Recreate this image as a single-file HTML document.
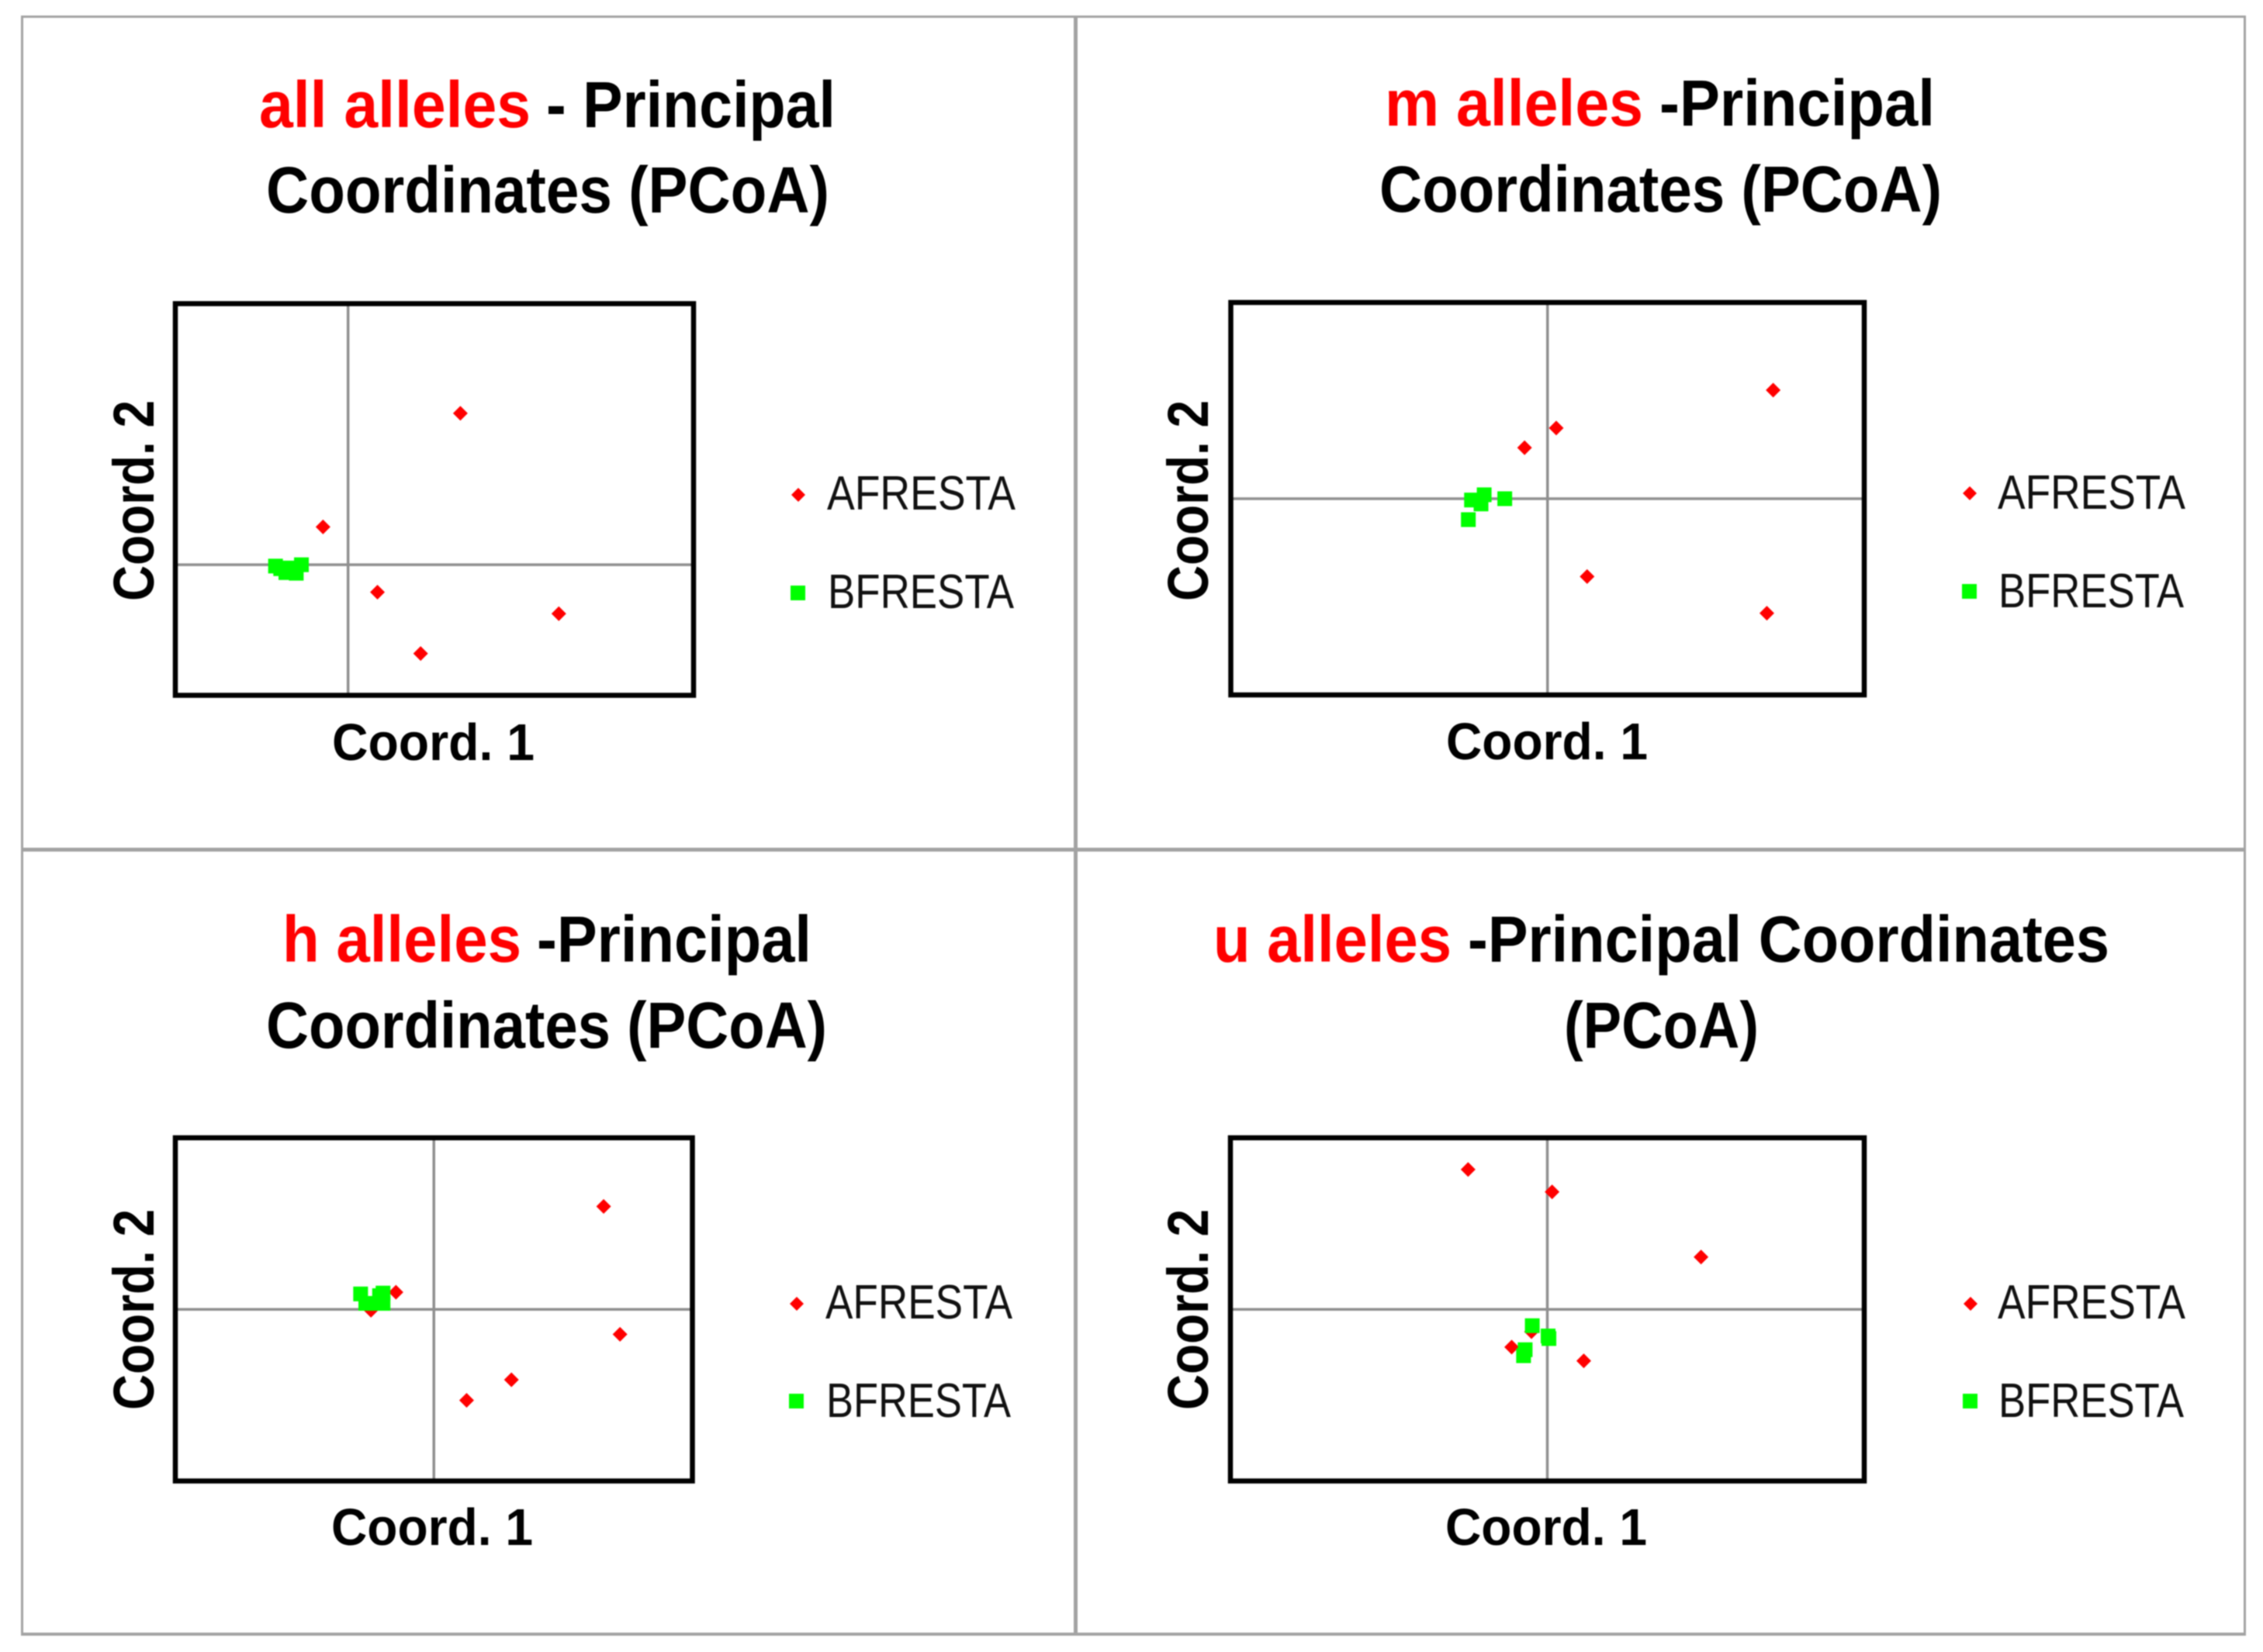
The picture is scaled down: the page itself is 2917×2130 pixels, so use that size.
<!DOCTYPE html>
<html lang="en">
<head>
<meta charset="utf-8">
<title>PCoA of alleles</title>
<style>
html,body{margin:0;padding:0;background:#fff;}
svg{display:block;width:2917px;height:2130px;filter:blur(0.7px);}
text{font-family:"Liberation Sans",sans-serif;fill:#000;}
.t{font-weight:700;font-size:84px;}
.r{fill:#f00;}
.ax{font-weight:700;font-size:67px;}
.ay{font-weight:700;font-size:74px;}
.lg{font-size:62px;fill:#111;}
</style>
</head>
<body>
<svg id="figure" xmlns="http://www.w3.org/2000/svg" width="2917" height="2130" viewBox="0 0 2917 2130">
  <g fill="#a3a3a3">
    <rect x="27" y="20" width="2867" height="3"/>
    <rect x="27" y="20" width="3" height="2089"/>
    <rect x="2892" y="20" width="3" height="2089"/>
    <rect x="1384" y="20" width="5" height="2089"/>
    <rect x="27" y="1093" width="2867" height="5"/>
    <rect x="27" y="2105" width="2867" height="4"/>
  </g>

  <g id="plots"></g>

  <!-- Panel 1 -->
  <g>
    <text class="t r" x="334" y="164" textLength="350" lengthAdjust="spacingAndGlyphs">all alleles</text>
    <text class="t" x="704" y="164" textLength="373" lengthAdjust="spacingAndGlyphs">- Principal</text>
    <text class="t" x="343" y="274" textLength="726" lengthAdjust="spacingAndGlyphs">Coordinates (PCoA)</text>
    <text class="ax" x="428" y="980" textLength="261" lengthAdjust="spacingAndGlyphs">Coord. 1</text>
    <text class="ay" transform="translate(198 775) rotate(-90)" textLength="259" lengthAdjust="spacingAndGlyphs">Coord. 2</text>
    <polygon fill="#f00" points="1029,629 1038,638 1029,647 1020,638"/>
    <text class="lg" x="1066" y="657" textLength="243" lengthAdjust="spacingAndGlyphs">AFRESTA</text>
    <rect fill="#0f0" x="1019" y="755" width="19" height="19"/>
    <text class="lg" x="1067" y="784" textLength="240" lengthAdjust="spacingAndGlyphs">BFRESTA</text>
  </g>

  <!-- Panel 2 -->
  <g>
    <text class="t r" x="1785" y="162" textLength="333" lengthAdjust="spacingAndGlyphs">m alleles</text>
    <text class="t" x="2139" y="162" textLength="355" lengthAdjust="spacingAndGlyphs">-Principal</text>
    <text class="t" x="1778" y="273" textLength="725" lengthAdjust="spacingAndGlyphs">Coordinates (PCoA)</text>
    <text class="ax" x="1864" y="979" textLength="260" lengthAdjust="spacingAndGlyphs">Coord. 1</text>
    <text class="ay" transform="translate(1557 775) rotate(-90)" textLength="259" lengthAdjust="spacingAndGlyphs">Coord. 2</text>
    <polygon fill="#f00" points="2539,627 2548,636 2539,645 2530,636"/>
    <text class="lg" x="2575" y="656" textLength="242" lengthAdjust="spacingAndGlyphs">AFRESTA</text>
    <rect fill="#0f0" x="2529" y="753" width="19" height="19"/>
    <text class="lg" x="2576" y="783" textLength="239" lengthAdjust="spacingAndGlyphs">BFRESTA</text>
  </g>

  <!-- Panel 3 -->
  <g>
    <text class="t r" x="364" y="1240" textLength="308" lengthAdjust="spacingAndGlyphs">h alleles</text>
    <text class="t" x="692" y="1240" textLength="354" lengthAdjust="spacingAndGlyphs">-Principal</text>
    <text class="t" x="343" y="1351" textLength="723" lengthAdjust="spacingAndGlyphs">Coordinates (PCoA)</text>
    <text class="ax" x="427" y="1992" textLength="260" lengthAdjust="spacingAndGlyphs">Coord. 1</text>
    <text class="ay" transform="translate(198 1818) rotate(-90)" textLength="259" lengthAdjust="spacingAndGlyphs">Coord. 2</text>
    <polygon fill="#f00" points="1027,1672 1036,1681 1027,1690 1018,1681"/>
    <text class="lg" x="1064" y="1700" textLength="241" lengthAdjust="spacingAndGlyphs">AFRESTA</text>
    <rect fill="#0f0" x="1017" y="1797" width="19" height="19"/>
    <text class="lg" x="1065" y="1827" textLength="238" lengthAdjust="spacingAndGlyphs">BFRESTA</text>
  </g>

  <!-- Panel 4 -->
  <g>
    <text class="t r" x="1564" y="1240" textLength="307" lengthAdjust="spacingAndGlyphs">u alleles</text>
    <text class="t" x="1892" y="1240" textLength="827" lengthAdjust="spacingAndGlyphs">-Principal Coordinates</text>
    <text class="t" x="2016" y="1351" textLength="251" lengthAdjust="spacingAndGlyphs">(PCoA)</text>
    <text class="ax" x="1863" y="1992" textLength="260" lengthAdjust="spacingAndGlyphs">Coord. 1</text>
    <text class="ay" transform="translate(1557 1818) rotate(-90)" textLength="259" lengthAdjust="spacingAndGlyphs">Coord. 2</text>
    <polygon fill="#f00" points="2540,1672 2549,1681 2540,1690 2531,1681"/>
    <text class="lg" x="2575" y="1700" textLength="242" lengthAdjust="spacingAndGlyphs">AFRESTA</text>
    <rect fill="#0f0" x="2530" y="1797" width="19" height="19"/>
    <text class="lg" x="2576" y="1827" textLength="239" lengthAdjust="spacingAndGlyphs">BFRESTA</text>
  </g>
</svg>

<script>
// Values (Coord. 1 / Coord. 2 for each population and allele class)
const allAfrestaX = [0.130, -0.029, 0.034, 0.244, 0.084];
const allAfrestaY = [0.232, 0.058, -0.042, -0.075, -0.136];
const allBfrestaX = [-0.084, -0.078, -0.072, -0.067, -0.060, -0.054];
const allBfrestaY = [-0.002, -0.006, -0.012, -0.005, -0.013, 0.000];

const mAfrestaX = [0.285, 0.011, -0.029, 0.050, 0.277];
const mAfrestaY = [0.166, 0.108, 0.078, -0.119, -0.175];
const mBfrestaX = [-0.054, -0.080, -0.096, -0.084, -0.100];
const mBfrestaY = [0.000, 0.006, -0.002, -0.008, -0.032];

const hAfrestaX = [0.197, 0.216, 0.090, 0.038, -0.044, -0.073];
const hAfrestaY = [0.120, -0.029, -0.082, -0.106, 0.020, -0.001];
const hBfrestaX = [-0.085, -0.079, -0.059, -0.059, -0.069, -0.063];
const hBfrestaY = [0.018, 0.007, 0.019, 0.007, 0.007, 0.016];

const uAfrestaX = [-0.100, 0.006, 0.194, -0.045, 0.046, -0.020];
const uAfrestaY = [0.163, 0.137, 0.061, -0.044, -0.060, -0.026];
const uBfrestaX = [-0.019, 0.002, 0.001, -0.028, -0.030];
const uBfrestaY = [-0.019, -0.034, -0.031, -0.047, -0.054];

const allXDomain = [-0.2, 0.4];
const allYDomain = [-0.2, 0.4];
const mXDomain = [-0.4, 0.4];
const mYDomain = [-0.3, 0.3];
const hXDomain = [-0.3, 0.3];
const hYDomain = [-0.2, 0.2];
const uXDomain = [-0.4, 0.4];
const uYDomain = [-0.2, 0.2];

const NS = 'http://www.w3.org/2000/svg';
const root = document.getElementById('plots');

function drawPlot(box, xDomain, yDomain, ax, ay, bx, by) {
  const x = v => box.left + (v - xDomain[0]) / (xDomain[1] - xDomain[0]) * (box.right - box.left);
  const y = v => box.bottom - (v - yDomain[0]) / (yDomain[1] - yDomain[0]) * (box.bottom - box.top);

  const g = document.createElementNS(NS, 'g');
  
  
  root.appendChild(g);

  const vAxis = document.createElementNS(NS, 'line');
  
  
  vAxis.setAttribute('x1', x(0));
  vAxis.setAttribute('x2', x(0));
  vAxis.setAttribute('y1', box.top);
  vAxis.setAttribute('y2', box.bottom);
  vAxis.setAttribute('stroke', '#8f8f8f');
  vAxis.setAttribute('stroke-width', '3.5');
  g.appendChild(vAxis);

  const hAxis = document.createElementNS(NS, 'line');
  
  
  hAxis.setAttribute('x1', box.left);
  hAxis.setAttribute('x2', box.right);
  hAxis.setAttribute('y1', y(0));
  hAxis.setAttribute('y2', y(0));
  hAxis.setAttribute('stroke', '#8f8f8f');
  hAxis.setAttribute('stroke-width', '3.5');
  g.appendChild(hAxis);

  const frame = document.createElementNS(NS, 'rect');
  
  
  frame.setAttribute('x', box.left);
  frame.setAttribute('y', box.top);
  frame.setAttribute('width', box.right - box.left);
  frame.setAttribute('height', box.bottom - box.top);
  frame.setAttribute('fill', 'none');
  frame.setAttribute('stroke', '#000');
  frame.setAttribute('stroke-width', '6.5');
  g.appendChild(frame);

  ax.forEach((v, i) => {
    const px = x(v), py = y(ay[i]), r = 9.5;
    const p = document.createElementNS(NS, 'polygon');
    
    
    p.setAttribute('fill', '#f00');
    p.setAttribute('points', [px, py - r, px + r, py, px, py + r, px - r, py].join(' '));
    g.appendChild(p);
  });

  bx.forEach((v, i) => {
    const s = 19;
    const q = document.createElementNS(NS, 'rect');
    
    
    q.setAttribute('fill', '#0f0');
    q.setAttribute('x', x(v) - s / 2);
    q.setAttribute('y', y(by[i]) - s / 2);
    q.setAttribute('width', s);
    q.setAttribute('height', s);
    g.appendChild(q);
  });
}

drawPlot({left: 226, right: 894, top: 391.5, bottom: 896.5}, allXDomain, allYDomain, allAfrestaX, allAfrestaY, allBfrestaX, allBfrestaY);
drawPlot({left: 1586.5, right: 2403, top: 390, bottom: 896}, mXDomain, mYDomain, mAfrestaX, mAfrestaY, mBfrestaX, mBfrestaY);
drawPlot({left: 226, right: 892.5, top: 1467, bottom: 1909.5}, hXDomain, hYDomain, hAfrestaX, hAfrestaY, hBfrestaX, hBfrestaY);
drawPlot({left: 1586, right: 2403, top: 1467, bottom: 1909.5}, uXDomain, uYDomain, uAfrestaX, uAfrestaY, uBfrestaX, uBfrestaY);
</script>
</body>
</html>
